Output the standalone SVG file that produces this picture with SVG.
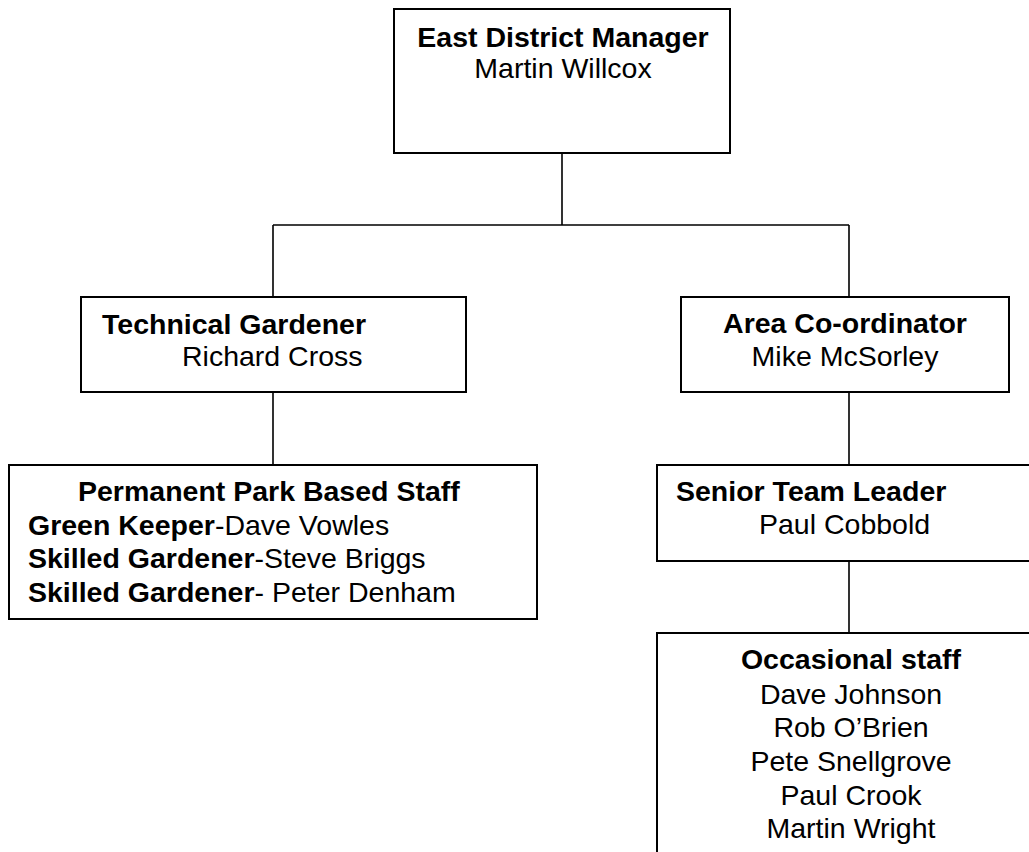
<svg xmlns="http://www.w3.org/2000/svg" width="1029" height="852" viewBox="0 0 1029 852">
<style>
.box{fill:#fff;stroke:#000;stroke-width:2}
.conn{fill:none;stroke:#000;stroke-width:1.6}
text{font-family:"Liberation Sans",Arial,sans-serif;font-size:28.5px;fill:#000}
.b{font-weight:bold}
.c{text-anchor:middle}
</style>
<rect width="1029" height="852" fill="#fff"/>
<g id="connectors">
<path class="conn" d="M562 153V225M273 225H849M273 225V297M849 225V297M273 392V465M849 392V465M849 561V633"/>
</g>
<g id="manager">
<rect class="box" x="394" y="9" width="336" height="144"/>
<text class="b c" x="563" y="47">East District Manager</text>
<text class="c" x="563" y="78">Martin Willcox</text>
</g>
<g id="technical">
<rect class="box" x="81" y="297" width="385" height="95"/>
<text class="b" x="102" y="334">Technical Gardener</text>
<text x="182" y="366">Richard Cross</text>
</g>
<g id="area">
<rect class="box" x="681" y="297" width="328" height="95"/>
<text class="b c" x="845" y="333">Area Co-ordinator</text>
<text class="c" x="845" y="366">Mike McSorley</text>
</g>
<g id="permanent">
<rect class="box" x="9" y="465" width="528" height="154"/>
<text class="b" x="78" y="501">Permanent Park Based Staff</text>
<text x="28" y="535"><tspan class="b">Green Keeper</tspan>-Dave Vowles</text>
<text x="28" y="568"><tspan class="b">Skilled Gardener</tspan>-Steve Briggs</text>
<text x="28" y="602"><tspan class="b">Skilled Gardener</tspan>- Peter Denham</text>
</g>
<g id="senior">
<rect class="box" x="657" y="465" width="384" height="96"/>
<text class="b" x="676" y="501">Senior Team Leader</text>
<text x="759" y="534">Paul Cobbold</text>
</g>
<g id="occasional">
<rect class="box" x="657" y="633" width="384" height="240"/>
<text class="b c" x="851" y="669">Occasional staff</text>
<text class="c" x="851" y="704">Dave Johnson</text>
<text class="c" x="851" y="737">Rob O’Brien</text>
<text class="c" x="851" y="771">Pete Snellgrove</text>
<text class="c" x="851" y="805">Paul Crook</text>
<text class="c" x="851" y="838">Martin Wright</text>
</g>
</svg>
